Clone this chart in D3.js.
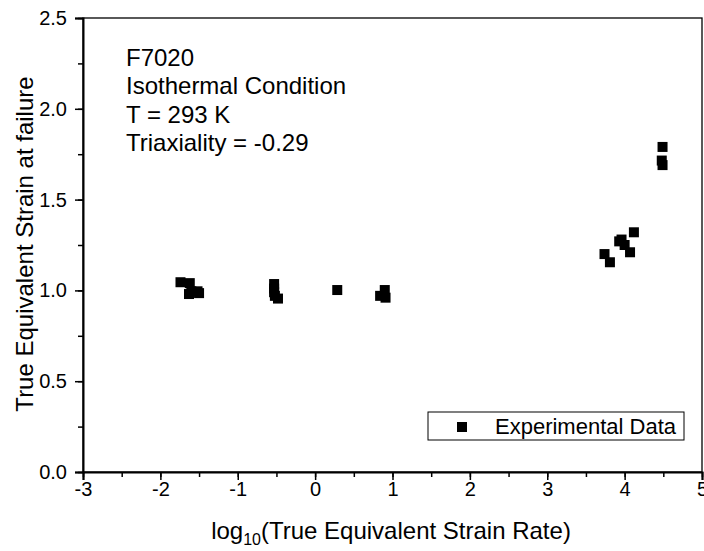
<!DOCTYPE html>
<html><head><meta charset="utf-8">
<script src="https://d3js.org/d3.v7.min.js"></script>
<style>body{margin:0;background:#fff}svg{display:block;font-family:"Liberation Sans",Arial,sans-serif}</style>
</head><body>
<script>
const xVals = [-1.74,-1.62,-1.63,-1.60,-1.52,-1.50, -0.53,-0.53,-0.53,-0.52,-0.48, 0.286, 0.84,0.90,0.91, 3.74,3.81,3.93,3.96,4.00,4.07,4.12, 4.49,4.48,4.49];
const yVals = [1.045,1.04,0.98,0.995,0.995,0.985, 1.035,1.01,0.99,0.97,0.955, 1.002, 0.97,1.002,0.96, 1.2,1.155,1.27,1.28,1.25,1.21,1.32, 1.79,1.715,1.69];
const xTicks = [-3,-2,-1,0,1,2,3,4,5];
const yTicks = [0.0,0.5,1.0,1.5,2.0,2.5];
const annotation = ["F7020","Isothermal Condition","T = 293 K","Triaxiality = -0.29"];
const legendLabel = "Experimental Data";

const FONT='"Liberation Sans",Arial,sans-serif';
const W=704,H=551, L=83,R=702,T=18,B=472;
const svg=d3.select("body").append("svg").attr("width",W).attr("height",H);
const x=d3.scaleLinear().domain([-3,5]).range([L,R]);
const y=d3.scaleLinear().domain([0,2.5]).range([B,T]);

// frame
svg.append("rect").attr("x",L).attr("y",T).attr("width",R-L).attr("height",B-T)
  .attr("fill","none").attr("stroke","#000").attr("stroke-width",1.3);

// x axis
const xMinor=d3.range(-3,5.01,0.5);
const gx=svg.append("g").attr("transform",`translate(0,${B})`);
gx.call(d3.axisBottom(x).tickValues(xMinor).tickSize(5).tickFormat(""))
  .call(g=>g.select(".domain").remove());
gx.append("g").call(d3.axisBottom(x).tickValues(xTicks).tickSize(8).tickPadding(2).tickFormat(d=>String(d)))
  .call(g=>g.select(".domain").attr("stroke-width",2))
  .call(g=>g.selectAll("text").attr("font-size",20).attr("fill","#000").attr("font-family",FONT));
gx.selectAll("line").attr("stroke-width",1.5);

// y axis
const yMinor=d3.range(0,2.51,0.25);
const gy=svg.append("g").attr("transform",`translate(${L},0)`);
gy.call(d3.axisLeft(y).tickValues(yMinor).tickSize(5).tickFormat(""))
  .call(g=>g.select(".domain").remove());
gy.append("g").call(d3.axisLeft(y).tickValues(yTicks).tickSize(8).tickPadding(8).tickFormat(d=>d.toFixed(1)))
  .call(g=>g.select(".domain").attr("stroke-width",2))
  .call(g=>g.selectAll("text").attr("font-size",20).attr("fill","#000").attr("font-family",FONT));
gy.selectAll("line").attr("stroke-width",1.5);

// points
const pts=xVals.map((v,i)=>[v,yVals[i]]);
const s=10;
svg.append("g").selectAll("rect").data(pts).join("rect")
  .attr("x",d=>x(d[0])-s/2).attr("y",d=>y(d[1])-s/2).attr("width",s).attr("height",s).attr("fill","#000");

// annotation
const ann=svg.append("text").attr("x",126).attr("font-size",24).attr("fill","#000");
annotation.forEach((t,i)=>ann.append("tspan").attr("x",126).attr("y",66+i*28.3).text(t));

// legend
svg.append("rect").attr("x",428).attr("y",412).attr("width",256).attr("height",28).attr("fill","#fff").attr("stroke","#000").attr("stroke-width",1);
svg.append("rect").attr("x",462-5).attr("y",427-5).attr("width",10).attr("height",10).attr("fill","#000");
svg.append("text").attr("x",495).attr("y",434).attr("font-size",22).text(legendLabel);

// axis titles
const xt=svg.append("text").attr("x",391).attr("y",539).attr("text-anchor","middle").attr("font-size",24);
xt.append("tspan").text("log");
xt.append("tspan").attr("font-size",16).attr("dy",6).text("10");
xt.append("tspan").attr("dy",-6).text("(True Equivalent Strain Rate)");
svg.append("text").attr("transform",`translate(33,244) rotate(-90)`).attr("text-anchor","middle").attr("font-size",24).text("True Equivalent Strain at failure");
</script>
</body></html>
